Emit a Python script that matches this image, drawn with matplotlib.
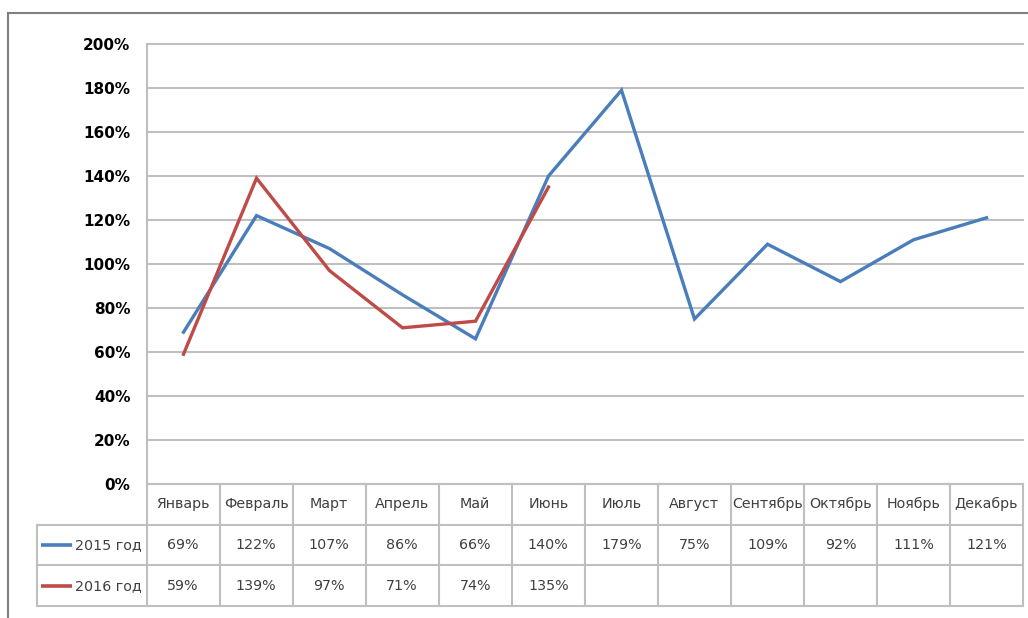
import matplotlib
matplotlib.use("Agg")
import matplotlib.pyplot as plt
from matplotlib.lines import Line2D
from matplotlib.ticker import FuncFormatter

months = ["Январь", "Февраль", "Март", "Апрель", "Май", "Июнь",
          "Июль", "Август", "Сентябрь", "Октябрь", "Ноябрь", "Декабрь"]
series_names = ["2015 год", "2016 год"]
y2015 = [69, 122, 107, 86, 66, 140, 179, 75, 109, 92, 111, 121]
y2016 = [59, 139, 97, 71, 74, 135]
colors = ["#4A7EBB", "#BE4B48"]
yticks = [0, 20, 40, 60, 80, 100, 120, 140, 160, 180, 200]

plt.rcParams['font.family'] = ['DejaVu Sans']

W, H = 1028, 618
fig = plt.figure(figsize=(W / 100, H / 100), dpi=100)


def box(x0, y0, x1, y1):
    # pixel box (top-left origin) -> figure fraction rect
    return [x0 / W, 1 - y1 / H, (x1 - x0) / W, (y1 - y0) / H]


grid_c = "#BFBFBF"
text_c = "#404040"

ax = fig.add_axes(box(147, 44, 1023, 484))
ax.plot(range(len(y2015)), y2015, color=colors[0], lw=2.4, solid_joinstyle='miter')
ax.plot(range(len(y2016)), y2016, color=colors[1], lw=2.4, solid_joinstyle='miter')
ax.set_xlim(-0.5, len(months) - 0.5)
ax.set_ylim(0, 200)
ax.set_yticks(yticks)
ax.yaxis.set_major_formatter(FuncFormatter(lambda v, p: f"{v:.0f}%"))
ax.set_xticks([])
ax.tick_params(axis='y', length=0, pad=12, labelsize=11, labelcolor="#000000")
for lab in ax.get_yticklabels():
    lab.set_fontweight('bold')
ax.grid(axis='y', color=grid_c, lw=1.5)
for gl in ax.get_ygridlines():
    gl.set_clip_on(False)
ax.set_axisbelow(True)
for s in ["top", "right", "bottom"]:
    ax.spines[s].set_visible(False)
ax.spines["left"].set_color(grid_c)
ax.spines["left"].set_linewidth(1.5)

# data table below the chart
tb = fig.add_axes(box(37, 484, 1023, 606))
tb.set_xlim(-2.0, len(months) - 0.5)
tb.set_ylim(3, 0)
tb.axis('off')
lc = dict(color=grid_c, lw=1.5, clip_on=False)
tb.plot([-0.5, len(months) - 0.5], [0, 0], **lc)
for r in [1, 2, 3]:
    tb.plot([-2.0, len(months) - 0.5], [r, r], **lc)
tb.plot([-2.0, -2.0], [1, 3], **lc)
for c in range(len(months) + 1):
    tb.plot([c - 0.5, c - 0.5], [0, 3], **lc)

fs = 10.3
for i, m in enumerate(months):
    tb.text(i, 0.5, m, ha='center', va='center', fontsize=fs, color=text_c)
for r, (name, vals) in enumerate(zip(series_names, [y2015, y2016])):
    yy = r + 1.5
    tb.plot([-1.95, -1.52], [yy, yy], color=colors[r], lw=2.6, solid_capstyle='butt')
    tb.text(-0.56, yy, name, ha='right', va='center', fontsize=fs, color=text_c)
    for i, v in enumerate(vals):
        tb.text(i, yy, f"{v}%", ha='center', va='center', fontsize=fs, color=text_c)

# outer chart frame
fc = "#7F7F7F"
fig.add_artist(Line2D([8 / W, 8 / W], [0, 1 - 13 / H], color=fc, lw=1.5))
fig.add_artist(Line2D([8 / W, 1], [1 - 13 / H, 1 - 13 / H], color=fc, lw=1.5))

fig.savefig("out.png", dpi=100)
